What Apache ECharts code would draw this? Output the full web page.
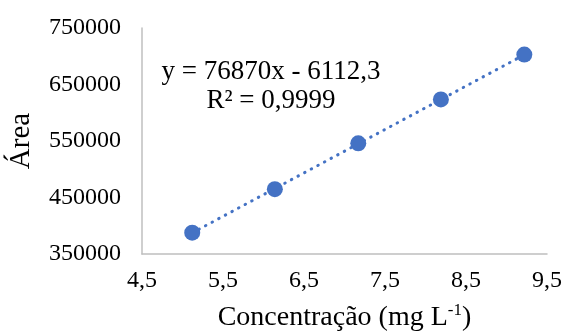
<!DOCTYPE html>
<html>
<head>
<meta charset="utf-8">
<script src="https://cdn.jsdelivr.net/npm/echarts@6/dist/echarts.min.js"></script>
<style>html,body{margin:0;padding:0;background:#fff;}#c{width:563px;height:335px;}</style>
</head>
<body>
<div id="c"></div>
<script>
const concentrations = [5.12, 6.14, 7.17, 8.19, 9.22];
const areas = [387800, 464800, 545800, 623600, 703000];
const trendX = [5.12, 9.22];
const trendY = [387462, 702629];
const xTicks = ['4,5', '5,5', '6,5', '7,5', '8,5', '9,5'];
const equationText = 'y = 76870x - 6112,3';
const r2Text = 'R² = 0,9999';

const FONT = '"Liberation Serif", "Times New Roman", serif';
const chart = echarts.init(document.getElementById('c'), null, {renderer: 'canvas'});
chart.setOption({
  animation: false,
  backgroundColor: '#fff',
  grid: {left: 142, right: 16, top: 28, bottom: 81, containLabel: false, outerBoundsMode: 'none'},
  xAxis: {
    type: 'value', min: 4.5, max: 9.5, interval: 1,
    axisLine: {show: true, lineStyle: {color: '#BFBFBF', width: 1.5}},
    axisTick: {show: false},
    splitLine: {show: false},
    axisLabel: {
      color: '#000', fontFamily: FONT, fontSize: 24, margin: 15,
      formatter: function (v) { return String(v).replace('.', ','); }
    },
    name: 'Concentração (mg L{sup|-1})',
    nameLocation: 'middle', nameGap: 48,
    nameTextStyle: {
      color: '#000', fontFamily: FONT, fontSize: 28,
      rich: {sup: {fontFamily: FONT, fontSize: 17, color: '#000', verticalAlign: 'top', lineHeight: 32, padding: [0, 0, 16, 0]}}
    }
  },
  yAxis: {
    type: 'value', min: 350000, max: 750000, interval: 100000,
    axisLine: {show: true, lineStyle: {color: '#BFBFBF', width: 1.5}},
    axisTick: {show: false},
    splitLine: {show: false},
    axisLabel: {
      color: '#000', fontFamily: FONT, fontSize: 24, margin: 21,
      formatter: function (v) { return String(v); }
    },
    name: 'Área', nameLocation: 'middle', nameGap: 106, nameRotate: 90,
    nameTextStyle: {color: '#000', fontFamily: FONT, fontSize: 29}
  },
  graphic: [{
    type: 'text', x: 271, y: 57,
    style: {
      text: equationText + '\n' + r2Text,
      font: '27px ' + FONT, fill: '#000', align: 'center', verticalAlign: 'top', lineHeight: 29
    }
  }],
  series: [{
    type: 'line',
    data: trendX.map((x, i) => [x, trendY[i]]),
    symbol: 'none',
    lineStyle: {color: '#4472C4', width: 3, type: [0.5, 7], cap: 'round'},
    z: 1
  }, {
    type: 'scatter',
    data: concentrations.map((x, i) => [x, areas[i]]),
    symbol: 'circle', symbolSize: 16,
    itemStyle: {color: '#4472C4', opacity: 1},
    z: 2
  }]
});
</script>
</body>
</html>
